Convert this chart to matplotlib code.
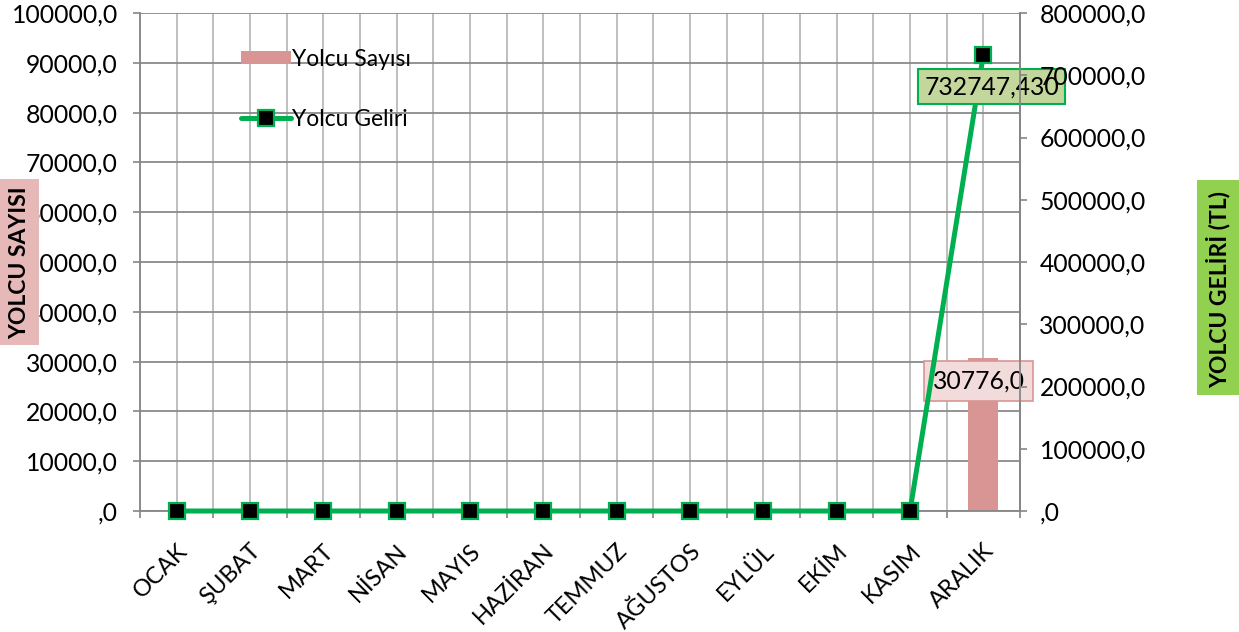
import matplotlib
matplotlib.use("Agg")
import matplotlib.pyplot as plt
from matplotlib.patches import Patch, Rectangle
from matplotlib.lines import Line2D
from matplotlib.ticker import MultipleLocator, FuncFormatter
import numpy as np

months = ["OCAK", "ŞUBAT", "MART", "NİSAN", "MAYIS", "HAZİRAN",
          "TEMMUZ", "AĞUSTOS", "EYLÜL", "EKİM", "KASIM", "ARALIK"]
passengers = [0, 0, 0, 0, 0, 0, 0, 0, 0, 0, 0, 30776.0]
revenue = [0, 0, 0, 0, 0, 0, 0, 0, 0, 0, 0, 732747.430]

BAR_COLOR = "#d99594"
LINE_COLOR = "#00b050"
FONT = ["Lato", "DejaVu Sans"]

plt.rcParams["font.family"] = FONT

W, H = 1239, 632
fig = plt.figure(figsize=(W / 100, H / 100), dpi=100)
ax = fig.add_axes([140 / W, (H - 511) / H, 880 / W, 498 / H])
ax2 = ax.twinx()

x = np.arange(len(months))

def fmt(v, _pos=None):
    s = f"{v:.1f}".replace(".", ",")
    return s[1:] if s.startswith("0,") else s

ax.bar(x, passengers, width=0.41, color=BAR_COLOR, zorder=2)
ax2.plot(x, revenue, color=LINE_COLOR, lw=3.6, marker="s", ms=12,
         mfc="black", mec=LINE_COLOR, mew=1.6, zorder=1.8, clip_on=False)

ax.set_xlim(-0.5, len(months) - 0.5)
ax.set_ylim(0, 100000)
ax2.set_ylim(0, 800000)
ax.yaxis.set_major_locator(MultipleLocator(10000))
ax2.yaxis.set_major_locator(MultipleLocator(100000))
ax.yaxis.set_major_formatter(FuncFormatter(fmt))
ax2.yaxis.set_major_formatter(FuncFormatter(fmt))

# category labels at centres, tick marks at boundaries
ax.set_xticks(x)
ax.set_xticklabels(months, rotation=45, ha="right", rotation_mode="anchor",
                   fontsize=17)
ax.set_xticks(np.arange(-0.5, len(months)), minor=True)
ax.tick_params(axis="x", which="major", length=0, pad=21)
ax.tick_params(axis="x", which="minor", length=5, width=1.2, color="#868686")

ax.tick_params(axis="y", length=5, width=1.2, color="#868686", labelsize=17.8, pad=11)
ax2.tick_params(axis="y", length=5, width=1.2, color="#868686", labelsize=17.8, pad=9)

# grid
for v in np.arange(-0.5, len(months), 0.5):
    ax.axvline(v, color="#b4b4b4", lw=1.2, zorder=0)
ax.yaxis.grid(True, color="#8a8a8a", lw=1.3, zorder=0)
ax.set_axisbelow(True)
ax2.set_axisbelow(False)

for a in (ax, ax2):
    a.spines["top"].set_visible(False)
    for side in ("left", "right", "bottom"):
        a.spines[side].set_color("#868686")
        a.spines[side].set_linewidth(1.3)
# the category axis line stays beneath the revenue line
ax2.spines["bottom"].set_visible(False)
ax2.spines["left"].set_visible(False)
ax.patch.set_visible(False)
ax2.set_zorder(ax.get_zorder() + 1)

# data labels
ax.annotate(fmt(passengers[-1]), (x[-1], passengers[-1]), xytext=(-3.3, -17),
            textcoords="offset points", ha="center", va="center", fontsize=17.8,
            bbox=dict(boxstyle="square,pad=0.34", fc="#f2dcdb", ec=BAR_COLOR, lw=1.2),
            zorder=5)
ax2.annotate(f"{revenue[-1]:.3f}".replace(".", ","), (x[-1], revenue[-1]),
             xytext=(6, -23), textcoords="offset points", ha="center", va="center",
             fontsize=17.8,
             bbox=dict(boxstyle="square,pad=0.25", fc="#c3d69b", ec=LINE_COLOR, lw=1.5),
             zorder=2, annotation_clip=False)

# legend
handles = [Patch(fc=BAR_COLOR, ec="none"),
           Line2D([], [], color=LINE_COLOR, lw=3.6, marker="s", ms=12,
                  mfc="black", mec=LINE_COLOR, mew=1.6, solid_capstyle="round")]
leg = ax2.legend(handles, ["Yolcu Sayısı", "Yolcu Geliri"], loc="upper left",
                 bbox_to_anchor=(220 / W, (H - 28) / H), bbox_transform=fig.transFigure,
                 frameon=False, fontsize=16.5, handlelength=2.2, handleheight=0.55,
                 handletextpad=0.05, labelspacing=1.7)

# axis titles on coloured panels
fig.patches.append(Rectangle((0, (H - 345) / H), 39 / W, 166 / H,
                             transform=fig.transFigure, fc="#e6b9b8", ec="none", zorder=10))
fig.text(20 / W, (H - 263) / H, "YOLCU SAYISI", rotation=90, ha="center", va="center",
         fontsize=16.5, fontweight="bold", zorder=11)
fig.patches.append(Rectangle((1197 / W, (H - 395) / H), 42 / W, 215 / H,
                             transform=fig.transFigure, fc="#92d050", ec="none", zorder=10))
fig.text(1218 / W, (H - 289) / H, "YOLCU GELİRİ (TL)", rotation=90, ha="center",
         va="center", fontsize=16.5, fontweight="bold", zorder=11)

fig.savefig("out.png", dpi=100)
